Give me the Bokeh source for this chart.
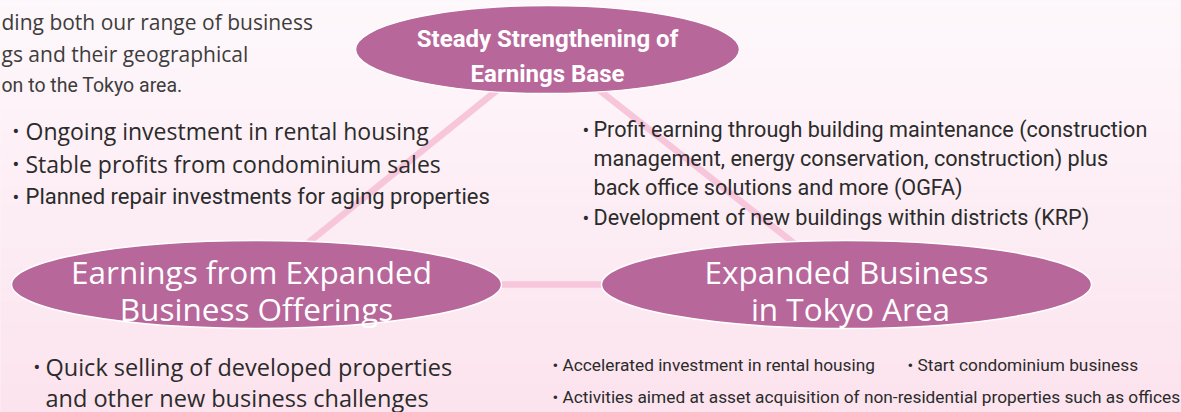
import numpy as np
from bokeh.plotting import figure
from bokeh.models import Range1d
from bokeh.core.properties import value
from bokeh.embed import file_html
from bokeh.resources import INLINE

# ---------------- content ----------------
intro_lines = ["ding both our range of business",
               "gs and their geographical",
               "on to the Tokyo area."]

theme_line1 = ["Steady Strengthening of", "Earnings from Expanded", "Expanded Business"]
theme_line2 = ["Earnings Base", "Business Offerings", "in Tokyo Area"]

base_items = ["Ongoing investment in rental housing",
              "Stable profits from condominium sales",
              "Planned repair investments for aging properties"]

support_lines = ["Profit earning through building maintenance (construction",
                 "management, energy conservation, construction) plus",
                 "back office solutions and more (OGFA)",
                 "Development of new buildings within districts (KRP)"]
support_bullet = [True, False, False, True]

offering_lines = ["Quick selling of developed properties",
                  "and other new business challenges"]
offering_bullet = [True, False]

tokyo_items = ["Accelerated investment in rental housing",
               "Start condominium business",
               "Activities aimed at asset acquisition of non-residential properties such as offices"]

# ---------------- layout / style ----------------
W, H = 1181, 412
TEXT = "#2b2b2b"
MAUVE = "#b8679b"
LINK = "#f7c6db"
FIX = 9  # baseline correction for the svg text placement

def b(ys):
    return [y - FIX for y in ys]

p = figure(width=W, height=H, x_range=Range1d(0, W), y_range=Range1d(H, 0),
           x_axis_type=None, y_axis_type=None, output_backend="svg",
           toolbar_location=None, min_border=0)
p.grid.visible = False
p.outline_line_color = None
p.background_fill_color = "#fcedf3"
p.border_fill_color = "#fcedf3"

# background gradient
n = 60
edges = np.linspace(0, H, n + 1)
t = (edges[:-1] + edges[1:]) / 2 / H
c0 = np.array([253, 248, 251])
c1 = np.array([252, 227, 238])
cols = ["#%02x%02x%02x" % tuple(np.round(c0 + (c1 - c0) * ti).astype(int)) for ti in t]
p.quad(left=0, right=W, top=edges[:-1], bottom=edges[1:], fill_color=cols, line_color=cols, line_width=1)

# nodes
node_x = [547, 256, 846]
node_y = [49, 284, 284]
node_w = [384, 490, 490]
node_h = [88, 88, 88]

p.multi_line(xs=[[node_x[0], node_x[1]], [node_x[0], node_x[2]], [node_x[1], node_x[2]]],
             ys=[[node_y[0], node_y[1]], [node_y[0], node_y[2]], [node_y[1], node_y[2]]],
             line_color=LINK, line_width=6.5)

p.ellipse(x=node_x, y=node_y, width=node_w, height=node_h,
          fill_color=MAUVE, line_color="white", line_width=1.5)

# titles
p.text(x=[node_x[0]] * 2, y=b([47, 82]), text=[theme_line1[0], theme_line2[0]],
       text_align="center", text_baseline="alphabetic", text_color="white",
       text_font=value("Roboto"), text_font_style="bold",
       text_font_size=value("24px"))
p.text(x=[251, 256], y=b([280, 317]), text=[theme_line1[1], theme_line2[1]],
       text_align="center", text_baseline="alphabetic", text_color="white",
       text_font=value("Open Sans"), text_font_size=value("31.5px"))
p.text(x=[846, 850], y=b([280, 317]), text=[theme_line1[2], theme_line2[2]],
       text_align="center", text_baseline="alphabetic", text_color="white",
       text_font=value("Open Sans"), text_font_size=value("31.5px"))

# intro paragraph (top-left)
p.text(x=[1, 1], y=b([30, 62]), text=intro_lines[:2], text_baseline="alphabetic",
       text_color="#3d3d3d", text_font=value("Open Sans"), text_font_size=value("21px"))
p.text(x=[1], y=b([94]), text=intro_lines[2:], text_baseline="alphabetic",
       text_color="#3d3d3d", text_font=value("Roboto"), text_font_size=value("19.5px"))

def bullet(x, y, size, font):
    p.text(x=x, y=b(y), text=["•"] * len(x), text_baseline="alphabetic", text_color=TEXT,
           text_font=value(font), text_font_size=value(size))

# earnings base items
p.text(x=[25, 25], y=b([139, 172]), text=base_items[:2], text_baseline="alphabetic",
       text_color=TEXT, text_font=value("Open Sans"), text_font_size=value("23px"))
p.text(x=[25], y=b([205]), text=base_items[2:], text_baseline="alphabetic",
       text_color=TEXT, text_font=value("Roboto"), text_font_size=value("22px"))
bullet([12, 12, 12], [139, 172, 205], "20px", "Roboto")

# support items (right-middle)
sup_y = [138, 167, 196, 226]
p.text(x=[593] * 4, y=b(sup_y), text=support_lines, text_baseline="alphabetic",
       text_color=TEXT, text_font=value("Roboto"), text_font_size=value("21.6px"))
bullet([582 for f in support_bullet if f], [y for y, f in zip(sup_y, support_bullet) if f], "20px", "Roboto")

# offering items (bottom-left)
off_y = [375, 406]
p.text(x=[45, 45], y=b(off_y), text=offering_lines, text_baseline="alphabetic",
       text_color=TEXT, text_font=value("Open Sans"), text_font_size=value("23.5px"))
bullet([33 for f in offering_bullet if f], [y for y, f in zip(off_y, offering_bullet) if f], "20px", "Roboto")

# tokyo items (bottom-right)
tk_x = [562, 917, 562]
tk_y = [373, 373, 405]
p.text(x=tk_x, y=b(tk_y), text=tokyo_items, text_baseline="alphabetic",
       text_color=TEXT, text_font=value("Roboto"), text_font_size=value("17.3px"))
bullet([x - 10 for x in tk_x], tk_y, "17px", "Roboto")

open("out.html", "w").write(file_html(p, INLINE))
